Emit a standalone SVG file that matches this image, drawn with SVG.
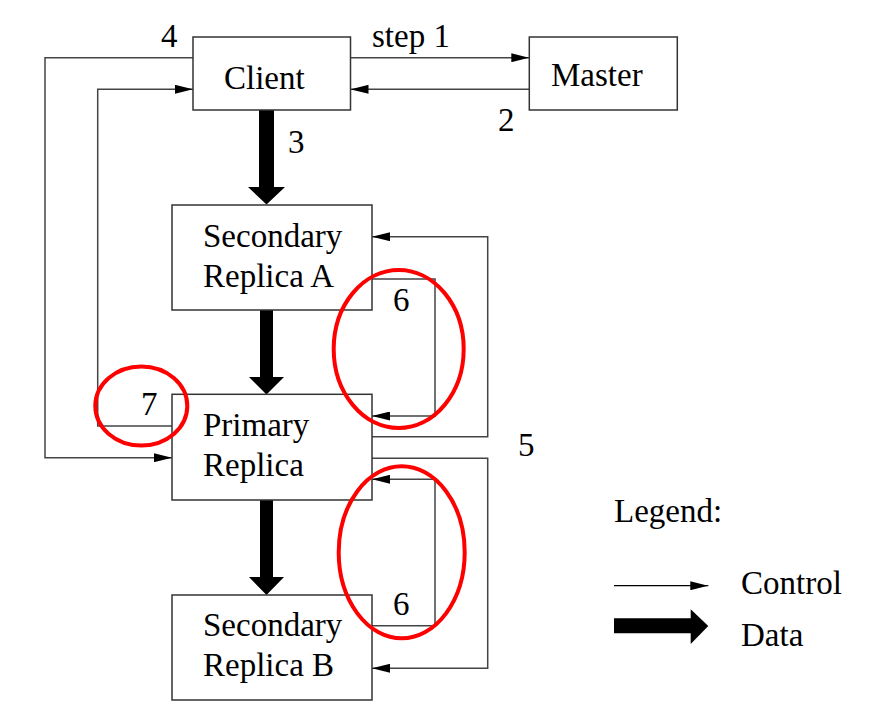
<svg xmlns="http://www.w3.org/2000/svg" width="875" height="721" viewBox="0 0 875 721">
  <style>
    .box { fill: #ffffff; stroke: #333333; stroke-width: 1.5; }
    .lbl { font-family: "Liberation Serif", "Times New Roman", serif; font-size: 33px; fill: #000000; }
    .ctl { fill: none; stroke: #444444; stroke-width: 1.5; }
    .ctl-a { fill: none; stroke: #444444; stroke-width: 1.5; marker-end: url(#head); }
    .data { fill: #000000; stroke: none; }
    .mark { fill: none; stroke: #ff0000; stroke-width: 4; }
  </style>
  <defs>
    <marker id="head" viewBox="0 0 18 9" refX="18" refY="4.5" markerWidth="18" markerHeight="9" markerUnits="userSpaceOnUse" orient="auto">
      <path d="M0,0 L18,4.5 L0,9 Z" fill="#000000"/>
    </marker>
  </defs>

  <rect width="875" height="721" fill="#ffffff"/>

  <!-- control and data connectors -->
  <g id="connectors">
    <!-- 1: client to master -->
    <path class="ctl-a" d="M350.5,57.7 L529.3,57.7"/>
    <!-- 2: master to client -->
    <path class="ctl-a" d="M529.3,89.3 L350.5,89.3"/>
    <!-- 4: client to primary -->
    <path class="ctl-a" d="M193,57.7 L45,57.7 L45,457.7 L172,457.7"/>
    <!-- 7: primary to client -->
    <path class="ctl-a" d="M172,426 L97.7,426 L97.7,89.3 L193,89.3"/>
    <!-- 5: primary to secondaries -->
    <path class="ctl-a" d="M372,436.7 L487.7,436.7 L487.7,236.7 L372,236.7"/>
    <path class="ctl-a" d="M372,458.3 L487.7,458.3 L487.7,668.3 L372,668.3"/>
    <!-- 6: secondaries to primary -->
    <path class="ctl-a" d="M372,279 L435,279 L435,416 L372,416"/>
    <path class="ctl-a" d="M372,625.7 L435,625.7 L435,479.3 L372,479.3"/>
    <!-- 3: data push -->
    <polygon class="data" points="259,110 274,110 274,187 285,187 266.5,204.5 248,187 259,187"/>
    <polygon class="data" points="260,310 273,310 273,377 284,377 266.5,394.5 249,377 260,377"/>
    <polygon class="data" points="260,500 273,500 273,577 284,577 266.5,595 249,577 260,577"/>
  </g>

  <g id="client">
    <rect class="box" x="193" y="37" width="157.5" height="73"/>
    <text class="lbl" x="224" y="89">Client</text>
  </g>

  <g id="master">
    <rect class="box" x="529.3" y="37" width="148" height="73"/>
    <text class="lbl" x="551" y="86">Master</text>
  </g>

  <g id="secondary-a">
    <rect class="box" x="172" y="205" width="200" height="105"/>
    <text class="lbl" x="203" y="247">Secondary</text>
    <text class="lbl" x="203" y="287">Replica A</text>
  </g>

  <g id="primary">
    <rect class="box" x="172" y="394.3" width="200" height="105.7"/>
    <text class="lbl" x="203" y="436">Primary</text>
    <text class="lbl" x="203" y="476">Replica</text>
  </g>

  <g id="secondary-b">
    <rect class="box" x="172" y="595" width="200" height="105"/>
    <text class="lbl" x="203" y="636">Secondary</text>
    <text class="lbl" x="203" y="676">Replica B</text>
  </g>

  <!-- step numbers -->
  <g id="step-labels">
    <text class="lbl" x="372" y="47">step 1</text>
    <text class="lbl" x="498" y="131">2</text>
    <text class="lbl" x="288" y="153">3</text>
    <text class="lbl" x="161" y="47">4</text>
    <text class="lbl" x="518" y="456">5</text>
    <text class="lbl" x="393" y="311">6</text>
    <text class="lbl" x="393" y="615">6</text>
    <text class="lbl" x="141" y="415">7</text>
  </g>

  <!-- highlight rings -->
  <g id="highlights">
    <ellipse class="mark" cx="398.7" cy="349" rx="65" ry="79"/>
    <ellipse class="mark" cx="401.7" cy="552.3" rx="63" ry="86"/>
    <ellipse class="mark" cx="141.3" cy="406" rx="46" ry="39.5"/>
  </g>

  <g id="legend">
    <text class="lbl" x="614" y="522">Legend:</text>
    <path class="ctl-a" d="M614,585.7 L708.3,585.7" style="stroke:#000000;stroke-width:1.2"/>
    <text class="lbl" x="741" y="594">Control</text>
    <polygon class="data" points="614,618.3 690.7,618.3 690.7,609.3 708.3,626 690.7,644 690.7,633.3 614,633.3"/>
    <text class="lbl" x="741" y="646">Data</text>
  </g>
</svg>
